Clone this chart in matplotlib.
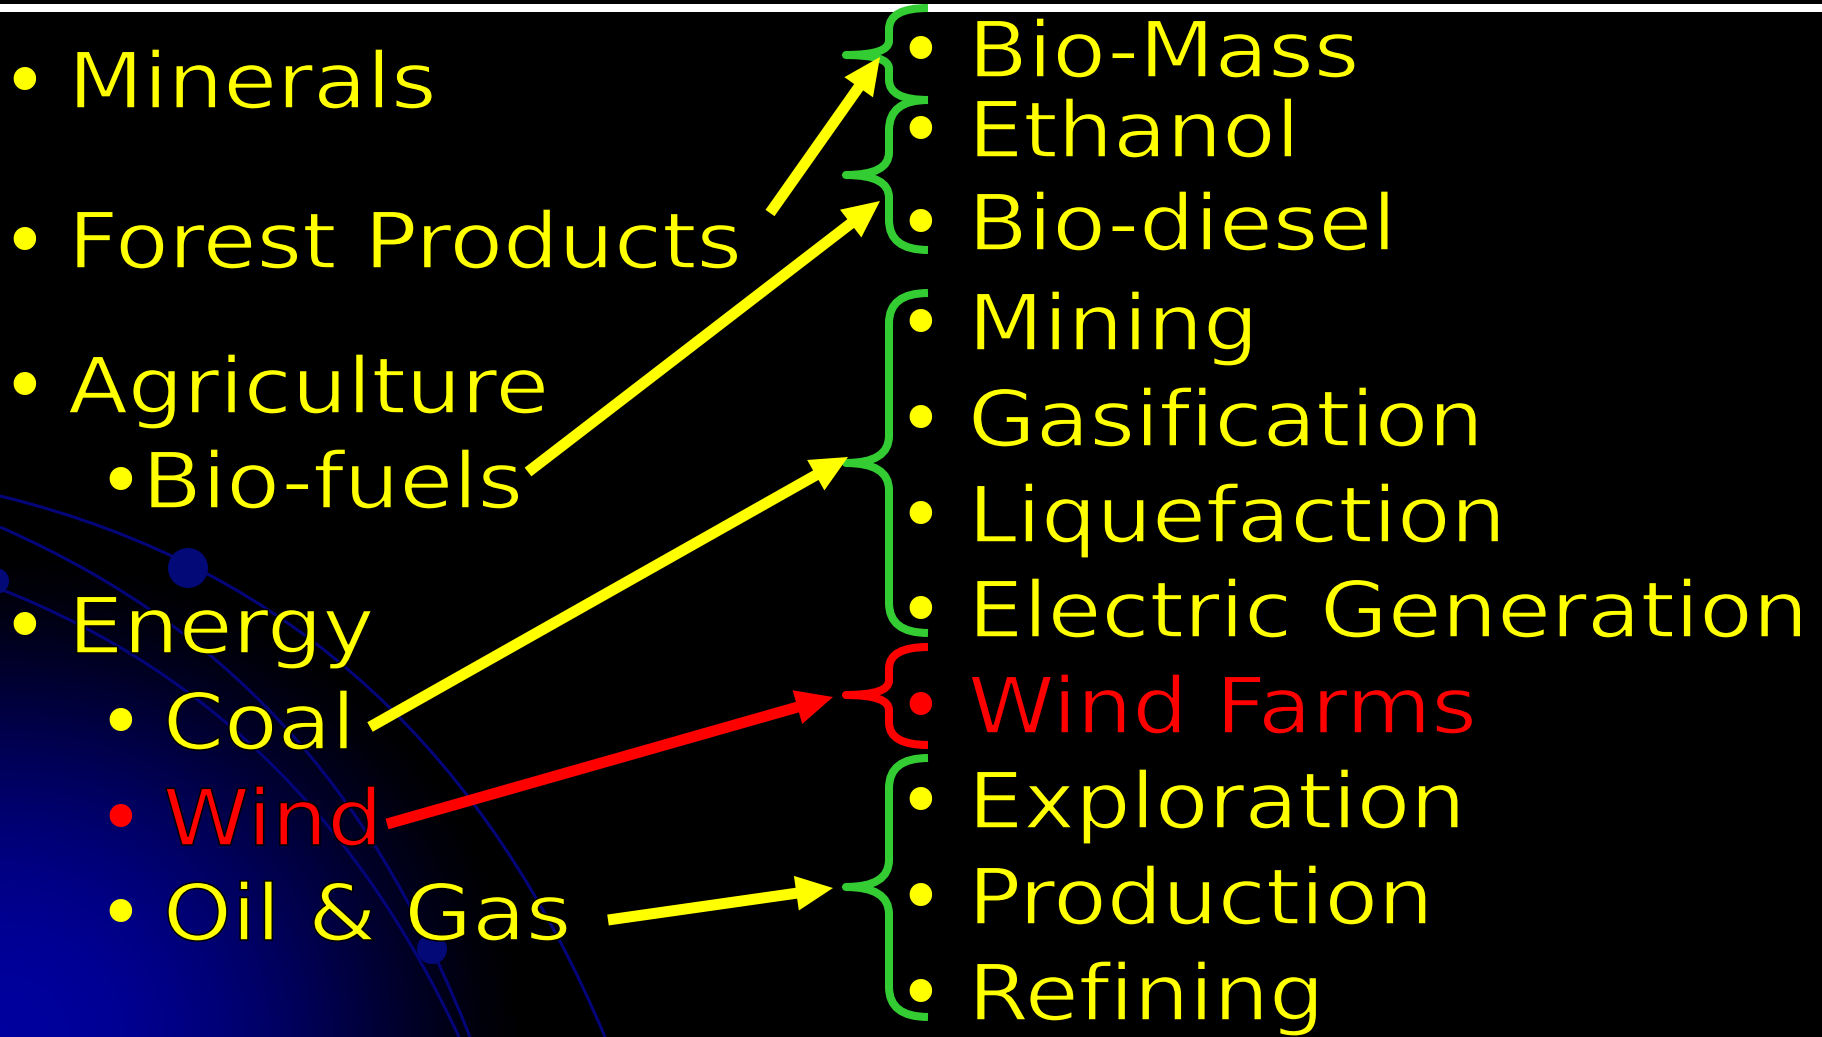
import numpy as np
import matplotlib
matplotlib.use("Agg")
import matplotlib.pyplot as plt
from matplotlib.path import Path
from matplotlib.patches import PathPatch, FancyArrow, Circle, Rectangle
from matplotlib.patheffects import AbstractPathEffect
from matplotlib.transforms import Affine2D

W, H = 1822, 1037

# ---------------- content ----------------
left_labels = ["Minerals", "Forest Products", "Agriculture", "Bio-fuels",
               "Energy", "Coal", "Wind", "Oil & Gas"]
left_levels = [0, 0, 0, 1, 0, 1, 1, 1]
left_colors = ["#FFFF00", "#FFFF00", "#FFFF00", "#FFFF00",
               "#FFFF00", "#FFFF00", "#FF0000", "#FFFF00"]
left_baselines = [108, 268, 413, 508, 653, 749, 845, 940]
left_text_x = [68, 68, 68, 142, 68, 163, 163, 163]
left_bullet_x = [24, 24, 24, 120, 24, 120, 120, 120]

right_labels = ["Bio-Mass", "Ethanol", "Bio-diesel", "Mining", "Gasification",
                "Liquefaction", "Electric Generation", "Wind Farms",
                "Exploration", "Production", "Refining"]
right_colors = ["#FFFF00"] * 7 + ["#FF0000"] + ["#FFFF00"] * 3
right_baselines = [77, 157, 250, 350, 446, 542, 637, 733, 828, 924, 1020]
right_text_x = 968
right_bullet_x = 920

# braces: top, tip, bottom, colour
brace_top = [8, 100, 293, 647, 758]
brace_tip = [55, 175, 463, 695, 887]
brace_bot = [100, 250, 633, 745, 1017]
brace_col = ["#33CC33", "#33CC33", "#33CC33", "#FF0000", "#33CC33"]
brace_x_end, brace_x_spine, brace_x_tip = 928, 889, 846

# arrows: start -> tip
arrow_x0 = [770, 528, 370, 387, 608]
arrow_y0 = [213, 472, 727, 824, 920]
arrow_x1 = [880, 880, 848, 833, 833]
arrow_y1 = [57, 201, 457, 697, 888]
arrow_col = ["#FFFF00", "#FFFF00", "#FFFF00", "#FF0000", "#FFFF00"]

FONT = "DejaVu Sans"
FS = 56
TRACK = 1.125   # horizontal widening of the slide's wide-tracked lettering
THIN = 1.1      # black edge (pt) that slims the glyph strokes a little


class StretchX(AbstractPathEffect):
    """Widen text horizontally about its own left anchor, slimming strokes."""

    def __init__(self, sx, thin):
        super().__init__()
        self.sx = sx
        self.thin = thin

    def draw_path(self, renderer, gc, tpath, affine, rgbFace=None):
        x0 = affine.get_matrix()[0, 2]
        t = affine + Affine2D().translate(-x0, 0).scale(self.sx, 1).translate(x0, 0)
        renderer.draw_path(gc, tpath, t, rgbFace)
        gc2 = renderer.new_gc()
        gc2.copy_properties(gc)
        gc2.set_foreground("black")
        gc2.set_linewidth(self.thin)
        renderer.draw_path(gc2, tpath, t, None)
        gc2.restore()


# ---------------- figure ----------------
fig = plt.figure(figsize=(W / 100, H / 100), dpi=100, facecolor="black")
ax = fig.add_axes([0, 0, 1, 1])
ax.set_xlim(0, W)
ax.set_ylim(H, 0)
ax.set_facecolor("black")
ax.axis("off")

# blue glow in the lower-left corner
yy, xx = np.mgrid[0:H, 0:W]
r = np.sqrt((xx / 530.0) ** 2 + ((H - yy) / 490.0) ** 2)
k = np.clip(1 - r ** 2, 0, 1) ** 1.5
img = np.zeros((H, W, 3))
img[..., 2] = k * 0.62
ax.imshow(img, extent=(0, W, H, 0), interpolation="bilinear", zorder=0)

# orbit lines
orbit_col = "#05057a"
orbits = [
    [(0, 496), (300, 569), (489, 761), (605, 1037)],
    [(0, 527), (250, 637), (380, 810), (470, 1037)],
    [(0, 589), (220, 675), (365, 835), (459, 1037)],
]
for pts in orbits:
    p = Path(pts, [Path.MOVETO, Path.CURVE4, Path.CURVE4, Path.CURVE4])
    ax.add_patch(PathPatch(p, fc="none", ec=orbit_col, lw=2.2, zorder=1))
for (cx, cy, cr) in [(188, 568, 20), (432, 949, 15), (-4, 581, 13)]:
    ax.add_patch(Circle((cx, cy), cr, fc="#030a78", ec="none", zorder=2))

# top white rule
ax.add_patch(Rectangle((0, 4), W, 8, fc="white", ec="none", zorder=3))

stretch = [StretchX(TRACK, THIN)]

# left list
for lab, lev, col, yb, tx, bx in zip(left_labels, left_levels, left_colors,
                                      left_baselines, left_text_x, left_bullet_x):
    ax.text(bx, yb, "\u2022", color=col, fontsize=FS, family=FONT,
            ha="center", va="baseline", zorder=5)
    ax.text(tx, yb, lab, color=col, fontsize=FS, family=FONT,
            ha="left", va="baseline", zorder=5, path_effects=stretch)

# right list
for lab, col, yb in zip(right_labels, right_colors, right_baselines):
    ax.text(right_bullet_x, yb, "\u2022", color=col, fontsize=FS, family=FONT,
            ha="center", va="baseline", zorder=5)
    ax.text(right_text_x, yb, lab, color=col, fontsize=FS, family=FONT,
            ha="left", va="baseline", zorder=5, path_effects=stretch)

# braces
for yt, ym, yb, col in zip(brace_top, brace_tip, brace_bot, brace_col):
    xe, xs, xt = brace_x_end, brace_x_spine, brace_x_tip
    h1 = ym - yt
    h2 = yb - ym
    r1 = min(30, h1 * 0.45)
    r2 = min(27, h1 * 0.3)
    r3 = min(27, h2 * 0.3)
    r4 = min(30, h2 * 0.45)
    verts = [(xe, yt), (xs, yt), (xs, yt + r1),
             (xs, ym - r2),
             (xs, ym), (xt, ym),
             (xs, ym), (xs, ym + r3),
             (xs, yb - r4),
             (xs, yb), (xe, yb)]
    codes = [Path.MOVETO, Path.CURVE3, Path.CURVE3,
             Path.LINETO,
             Path.CURVE3, Path.CURVE3,
             Path.CURVE3, Path.CURVE3,
             Path.LINETO,
             Path.CURVE3, Path.CURVE3]
    ax.add_patch(PathPatch(Path(verts, codes), fc="none", ec=col, lw=5.8,
                           capstyle="butt", joinstyle="round", zorder=6))

# arrows
for x0, y0, x1, y1, col in zip(arrow_x0, arrow_y0, arrow_x1, arrow_y1, arrow_col):
    ax.add_patch(FancyArrow(x0, y0, x1 - x0, y1 - y0, width=11,
                            head_width=35, head_length=37,
                            length_includes_head=True, fc=col, ec="none",
                            zorder=7))

fig.savefig("out.png", dpi=100, facecolor="black")
